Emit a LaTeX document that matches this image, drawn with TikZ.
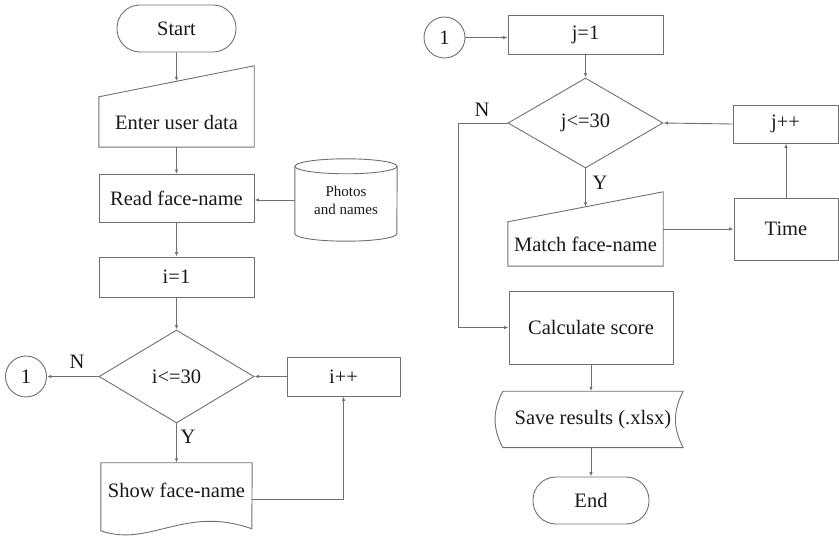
\documentclass[tikz,border=0pt]{standalone}
\usepackage{fontspec}
\setmainfont{Liberation Serif}
\usepackage{tikz}
\usetikzlibrary{arrows.meta, shapes.geometric, positioning, calc}
\definecolor{linegray}{RGB}{112,112,112}
\definecolor{inkdark}{RGB}{25,25,25}

\begin{document}
\begin{tikzpicture}[x=1pt, y=-1pt,
    every node/.style={font=\fontsize{20.5}{22}\selectfont, text=inkdark},
    outline/.style={draw=linegray, line width=0.9pt},
    flow/.style={outline, -{Latex[length=4.5pt, width=3.5pt]}},
    plain/.style={rectangle, inner sep=0pt},
    box/.style={outline, rectangle, inner sep=0pt},
    term/.style={box, rounded corners=23pt},
    decision/.style={outline, diamond, inner sep=0pt},
    conn/.style={outline, circle, inner sep=0pt, minimum size=41pt}]
  \useasboundingbox (0,0) rectangle (839,537);

  \node[term, minimum width=119pt, minimum height=47pt] (start) at (176.5,28.5) {Start};
  \node[plain, minimum width=155pt, minimum height=50pt] (enter) at (176.5,122) {Enter user data};
  \draw[outline] (enter.south west) -- (enter.north west) -- ([yshift=31pt]enter.north east) -- (enter.south east) -- cycle;
  \coordinate (entertop) at ($(enter.north west)!0.5!([yshift=31pt]enter.north east)$);
  \node[box, minimum width=155pt, minimum height=48pt] (read) at (176.5,198.5) {Read face-name};
  \node[plain, minimum width=102pt, minimum height=67pt, align=center,
        font=\fontsize{15}{18}\selectfont] (photos) at (346,200) {Photos\\and names};
  \draw[outline] (photos.north west) -- (photos.south west)
    arc[start angle=180, end angle=360, x radius=51pt, y radius=7.5pt] -- (photos.north east);
  \draw[outline] (photos.north) ellipse [x radius=51pt, y radius=7.5pt];
  \node[box, minimum width=155pt, minimum height=40pt] (i1) at (176.5,277) {i=1};
  \node[decision, minimum width=155pt, minimum height=93pt] (d1) at (176.5,376.5) {i<=30};
  \node[conn] (c1) at (26,376.5) {1};
  \node (n1) at (77,362) {N};
  \node (y1) at (188,437) {Y};
  \node[box, minimum width=113pt, minimum height=39pt] (ipp) at (343.5,376.5) {i++};
  \node[plain, minimum width=151pt, minimum height=54pt] (show) at (176.5,490) {Show face-name};
  \draw[outline] (show.north east) -- (show.north west) -- ++(0,68)
    .. controls +(49,17) and +(-67,-24) .. ++(151,-2) -- cycle;

  \node[conn] (c2) at (444.5,37.5) {1};
  \node[box, minimum width=155pt, minimum height=39pt] (j1) at (585.5,35) {j=1};
  \node[decision, minimum width=155pt, minimum height=90pt] (d2) at (585.5,123) {j<=30};
  \node (n2) at (482,110) {N};
  \node (y2) at (600,183) {Y};
  \node[box, minimum width=105pt, minimum height=38pt] (jpp) at (785.5,124) {j++};
  \node[plain, minimum width=155pt, minimum height=44pt] (match) at (585.5,244) {Match face-name};
  \draw[outline] (match.south west) -- (match.north west) -- ([yshift=30pt]match.north east) -- (match.south east) -- cycle;
  \coordinate (matchtop) at ($(match.north west)!0.5!([yshift=30pt]match.north east)$);
  \node[box, minimum width=104pt, minimum height=62pt] (time) at (786,229) {Time};
  \node[box, minimum width=164pt, minimum height=73pt] (calc) at (591,327.5) {Calculate score};
  \node[plain, minimum width=180pt, minimum height=56pt] (save) at (593,419.5) {Save results (.xlsx)};
  \draw[outline] (save.north west) -- (save.north east) to[bend right=28] (save.south east)
    -- (save.south west) to[bend left=28] (save.north west);
  \node[term, minimum width=116pt, minimum height=47pt] (end) at (591,500.5) {End};

  \draw[flow] (start.south) -- (entertop);
  \draw[flow] (enter.south) -- (read.north);
  \draw[flow] (photos.west) -- (photos.west -| read.east);
  \draw[flow] (read.south) -- (i1.north);
  \draw[flow] (i1.south) -- (d1.north);
  \draw[flow] (d1.west) -- (c1.east);
  \draw[flow] (ipp.west) -- (d1.east);
  \draw[flow] (d1.south) -- (show.north);
  \draw[flow] ([yshift=-9pt]show.east) -| (ipp.south);

  \draw[flow] (c2.east) -- (c2.east -| j1.west);
  \draw[flow] (j1.south) -- (d2.north);
  \draw[flow] (jpp.west) -- (d2.east);
  \draw[flow] (d2.south) -- (matchtop);
  \draw[flow] (time.west -| match.east) -- (time.west);
  \draw[flow] (time.north) -- (time.north |- jpp.south);
  \draw[flow] (d2.west) -- ++(-49,0) |- (calc.west);
  \draw[flow] (calc.south) -- (calc.south |- save.north);
  \draw[flow] (save.south -| end.north) -- (end.north);
\end{tikzpicture}
\end{document}
